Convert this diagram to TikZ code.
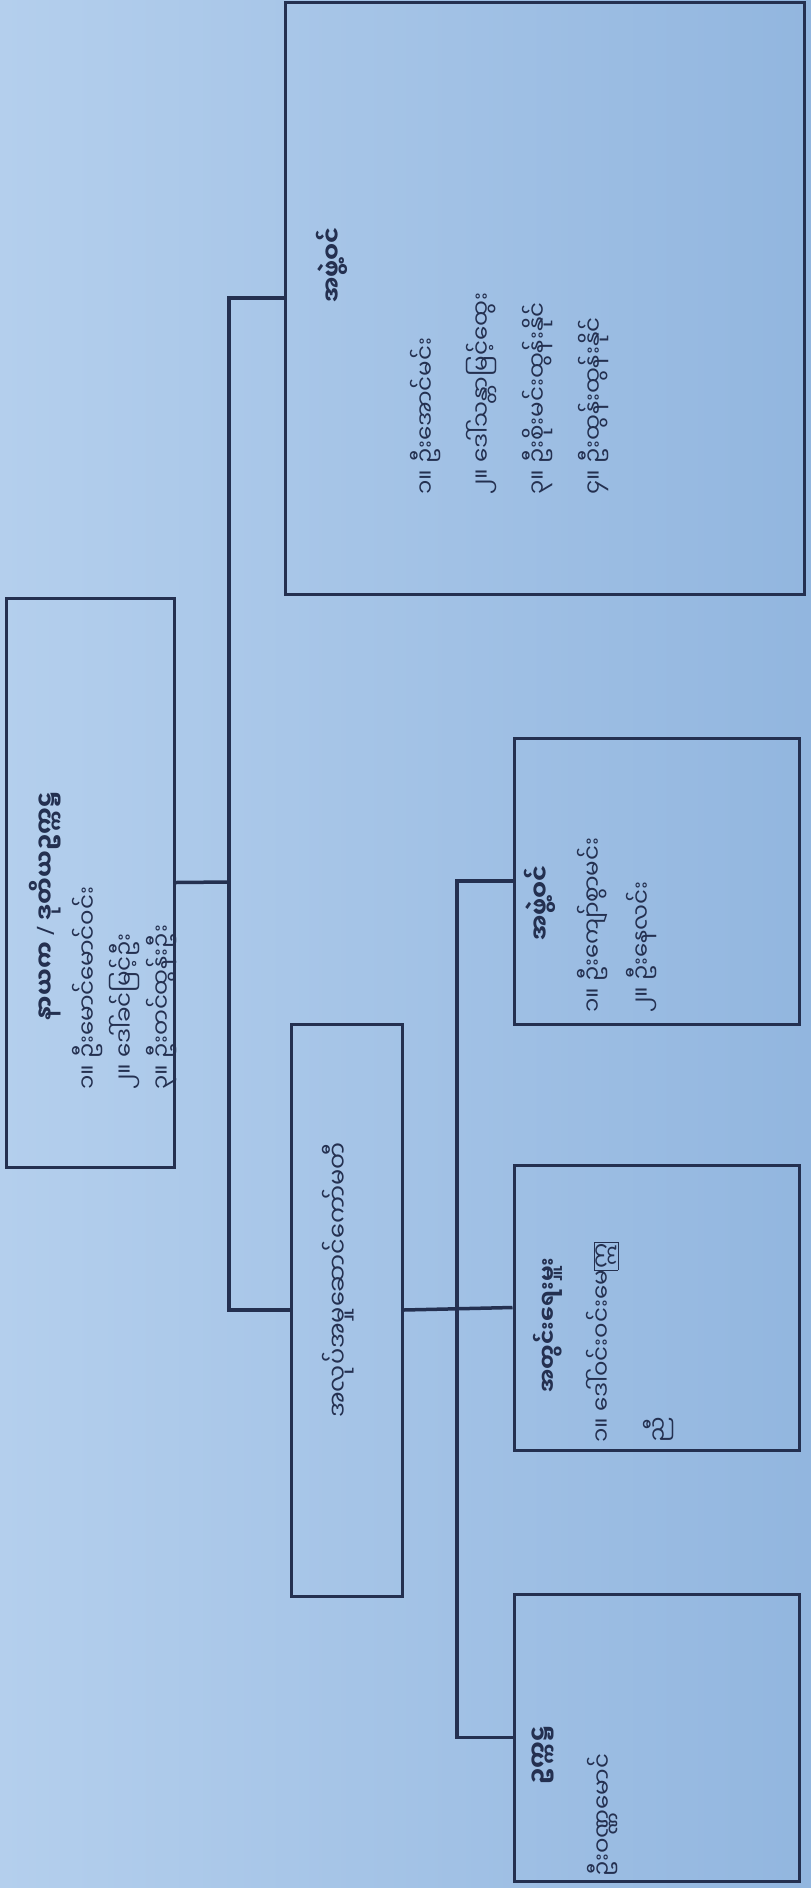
\documentclass[tikz,border=0pt]{standalone}
\usepackage{fontspec}
\newfontfamily\mmfont[Script=Myanmar]{Noto Sans Myanmar UI}
\newfontfamily\latfont{Noto Sans}
\usetikzlibrary{positioning}
\definecolor{ink}{RGB}{36,48,80}
\definecolor{paperl}{RGB}{180,207,237}
\definecolor{paperr}{RGB}{146,182,223}
\lineskiplimit=-50pt

\begin{document}
\begin{tikzpicture}[x=1pt,y=-1pt,
  box/.style={draw=ink, line width=3pt, inner sep=0pt},
  link/.style={draw=ink, line width=3.5pt},
  head/.style={rotate=90, text=ink, inner sep=0pt, font=\mmfont\bfseries\fontsize{#1}{28}\selectfont},
  head/.default=24,
  body/.style={rotate=90, text=ink, inner sep=0pt, anchor=north west, align=left, font=\mmfont\fontsize{23}{#1}\selectfont},
]
  \shade[left color=paperl, right color=paperr] (0,0) rectangle (811,1888);
  \useasboundingbox (0,0) rectangle (811,1888);

  % boxes
  \node[box, minimum width=168, minimum height=569] (root) at (90,882.5) {};
  \node[box, minimum width=519, minimum height=592] (adv) at (544.5,298) {};
  \node[box, minimum width=111, minimum height=572] (exec) at (346.5,1310) {};
  \node[box, minimum width=285, minimum height=286] (mem) at (656.5,881) {};
  \node[box, minimum width=285, minimum height=285] (sec) at (656.5,1307.5) {};
  \node[box, minimum width=285, minimum height=287] (chair) at (656.5,1737.5) {};

  % texts
  \node[head] (roothead) at (45,906) {နာယက {\latfont /} ဒုတိယဥက္ကဋ္ဌ};
  \node[body=37] (rootbody) at (72,1090) {၁။ ဦးမောင်မောင်ဝင်း\\၂။ ဒေါ်ခင်မြင့်ဦး\\၃။ ဦးတင်ထွန်းဦး};
  \node[head] (advhead) at (332,265) {အဖွဲ့ဝင်};
  \node[body=56] (advbody) at (410,495) {၁။ ဦးအောင်မင်း\\၂။ ဒေါ်သန္တာမြင့်ထွေး\\၃။ ဦးစိုးမင်းထွန်းနိုင်\\၄။ ဦးထွန်းထွန်းနိုင်};
  \node[rotate=90, text=ink, inner sep=0pt, font=\mmfont\fontsize{24}{28}\selectfont] (exectext) at (338,1280) {အလုပ်အမှုဆောင်ကော်မတီ};
  \node[head] (memhead) at (540,903) {အဖွဲ့ဝင်};
  \node[body=49] (membody) at (577,1013) {၁။ ဦးကျော်စွာမင်း\\၂။ ဦးနေလင်း};
  \node[head=22] (sechead) at (548,1325) {အတွင်းရေးမှူး};
  \node[body=57] (secbody) at (586,1443) {၁။ ဒေါ်ဝင်းဝင်းမေ{\fboxsep=1pt\fbox{ဣ}}\\ညီ};
  \node[head] (chairhead) at (543,1755) {ဥက္ကဋ္ဌ};
  \node[body=50] (chairbody) at (587,1877) {ဦးဝဏ္ဏမောင်};

  % connectors
  \coordinate (trunk) at (229,882);
  \coordinate (bus) at (457,1309);
  \draw[link] (root.east) -- (trunk);
  \draw[link] (adv.west) -| (trunk) |- (exec.west);
  \draw[link] (exec.east) -- (sec.west);
  \draw[link] (mem.west) -| (bus) |- (chair.west);
\end{tikzpicture}
\end{document}
